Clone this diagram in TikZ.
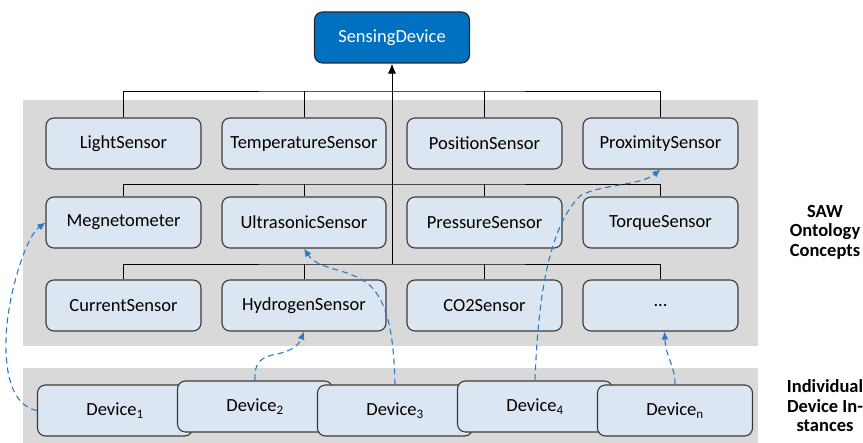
\documentclass[tikz,border=0pt]{standalone}
\usepackage{fontspec}
\setmainfont{Carlito}
\usetikzlibrary{arrows.meta}

\definecolor{panelgray}{HTML}{D9D9D9}
\definecolor{boxfill}{HTML}{DCE6F2}
\definecolor{boxline}{HTML}{3A3A3A}
\definecolor{rootfill}{HTML}{0070C0}
\definecolor{linkblue}{HTML}{2A7AC8}

\tikzset{
  concept/.style={draw=boxline, line width=1.1pt, fill=boxfill, rounded corners=8pt,
    minimum width=155pt, minimum height=51pt, inner sep=2pt,
    font=\fontsize{18.5}{22}\selectfont, text=black},
  widebox/.style={concept, minimum width=164pt},
  rootbox/.style={concept, fill=rootfill, draw=black!85, text=white},
  device/.style={concept},
  panel/.style={fill=panelgray, draw=none},
  conn/.style={draw=black, line width=0.9pt},
  link/.style={draw=linkblue, line width=1.1pt, dash pattern=on 6pt off 4pt,
    -{Latex[length=8pt,width=7pt]}},
  sidelabel/.style={align=center, font=\bfseries\fontsize{18.5}{19.5}\selectfont}
}

\begin{document}
\begin{tikzpicture}[x=1pt, y=-1pt]
  \useasboundingbox (0,0) rectangle (863,443);

  % background panels
  \fill[panel] (23,100) rectangle (758,346);
  \fill[panel] (23,368) rectangle (758,443);

  % root concept
  \node[rootbox] (sd) at (392,37.5) {SensingDevice};

  % ontology concepts, row 1
  \node[concept] (light) at (123.5,143.5) {LightSensor};
  \node[widebox] (temp)  at (304,143.5)   {TemperatureSensor};
  \node[concept] (pos)   at (484.5,143.5) {PositionSensor};
  \node[concept] (prox)  at (660.5,143.5) {ProximitySensor};

  % row 2
  \node[concept] (megn)  at (123.5,222.5) {Megnetometer};
  \node[widebox] (ultra) at (304,222.5)   {UltrasonicSensor};
  \node[concept] (press) at (484.5,222.5) {PressureSensor};
  \node[concept] (torq)  at (660.5,222.5) {TorqueSensor};

  % row 3
  \node[concept] (curr)  at (123.5,305.5) {CurrentSensor};
  \node[widebox] (hydro) at (304,305.5)   {HydrogenSensor};
  \node[concept] (co2)   at (484.5,305.5) {CO2Sensor};
  \node[concept] (dots)  at (660.5,305.5) {...};

  % subclass buses
  \coordinate (bus1) at (392,91);
  \coordinate (bus2) at (392,184);
  \coordinate (bus3) at (392,264);

  \draw[conn] (light.north) |- (bus1) -| (prox.north);
  \draw[conn] (temp.north) -- (temp.north |- bus1);
  \draw[conn] (pos.north) -- (pos.north |- bus1);

  \draw[conn] (megn.north) |- (bus2) -| (torq.north);
  \draw[conn] (ultra.north) -- (ultra.north |- bus2);
  \draw[conn] (press.north) -- (press.north |- bus2);

  \draw[conn] (curr.north) |- (bus3) -| (dots.north);
  \draw[conn] (hydro.north) -- (hydro.north |- bus3);
  \draw[conn] (co2.north) -- (co2.north |- bus3);

  \draw[conn, -{Latex[length=10pt,width=8pt]}] (bus3) -- (sd.south);

  % individual devices, each drawn over its left neighbour
  \node[device] (dev1) at (115,410.5) {Device\textsubscript{1}};
  \node[device] (dev2) at (255,406.5) {Device\textsubscript{2}};
  \node[device] (dev3) at (395,410.5) {Device\textsubscript{3}};
  \node[device] (dev4) at (535,406.5) {Device\textsubscript{4}};
  \node[device] (devn) at (675,410.5) {Device\textsubscript{n}};

  % instance-of links
  \draw[link] (dev1.west) .. controls (2,404) and (0,340) .. (14,285)
                          .. controls (21,258) and (30,234) .. (megn.west);
  \draw[link] (dev2.north) .. controls (254,362) and (261,357) .. (277,354)
                           .. controls (292,351) and (299,345) .. (hydro.south);
  \draw[link] (dev3.north) .. controls (394,340) and (389,300) .. (367,283)
                           .. controls (347,268) and (318,270) .. (ultra.south);
  \draw[link] (dev4.north) .. controls (538,300) and (548,228) .. (580,196)
                           .. controls (600,184) and (640,186) .. (prox.south);
  \draw[link] (devn.north) .. controls (675,365) and (666,358) .. ([xshift=4pt]dots.south);

  % side captions
  \node[sidelabel] (sawlabel) at (825,232) {SAW\\Ontology\\Concepts};
  \node[sidelabel] (devlabel) at (825,406) {Individual\\Device In-\\stances};
\end{tikzpicture}
\end{document}
